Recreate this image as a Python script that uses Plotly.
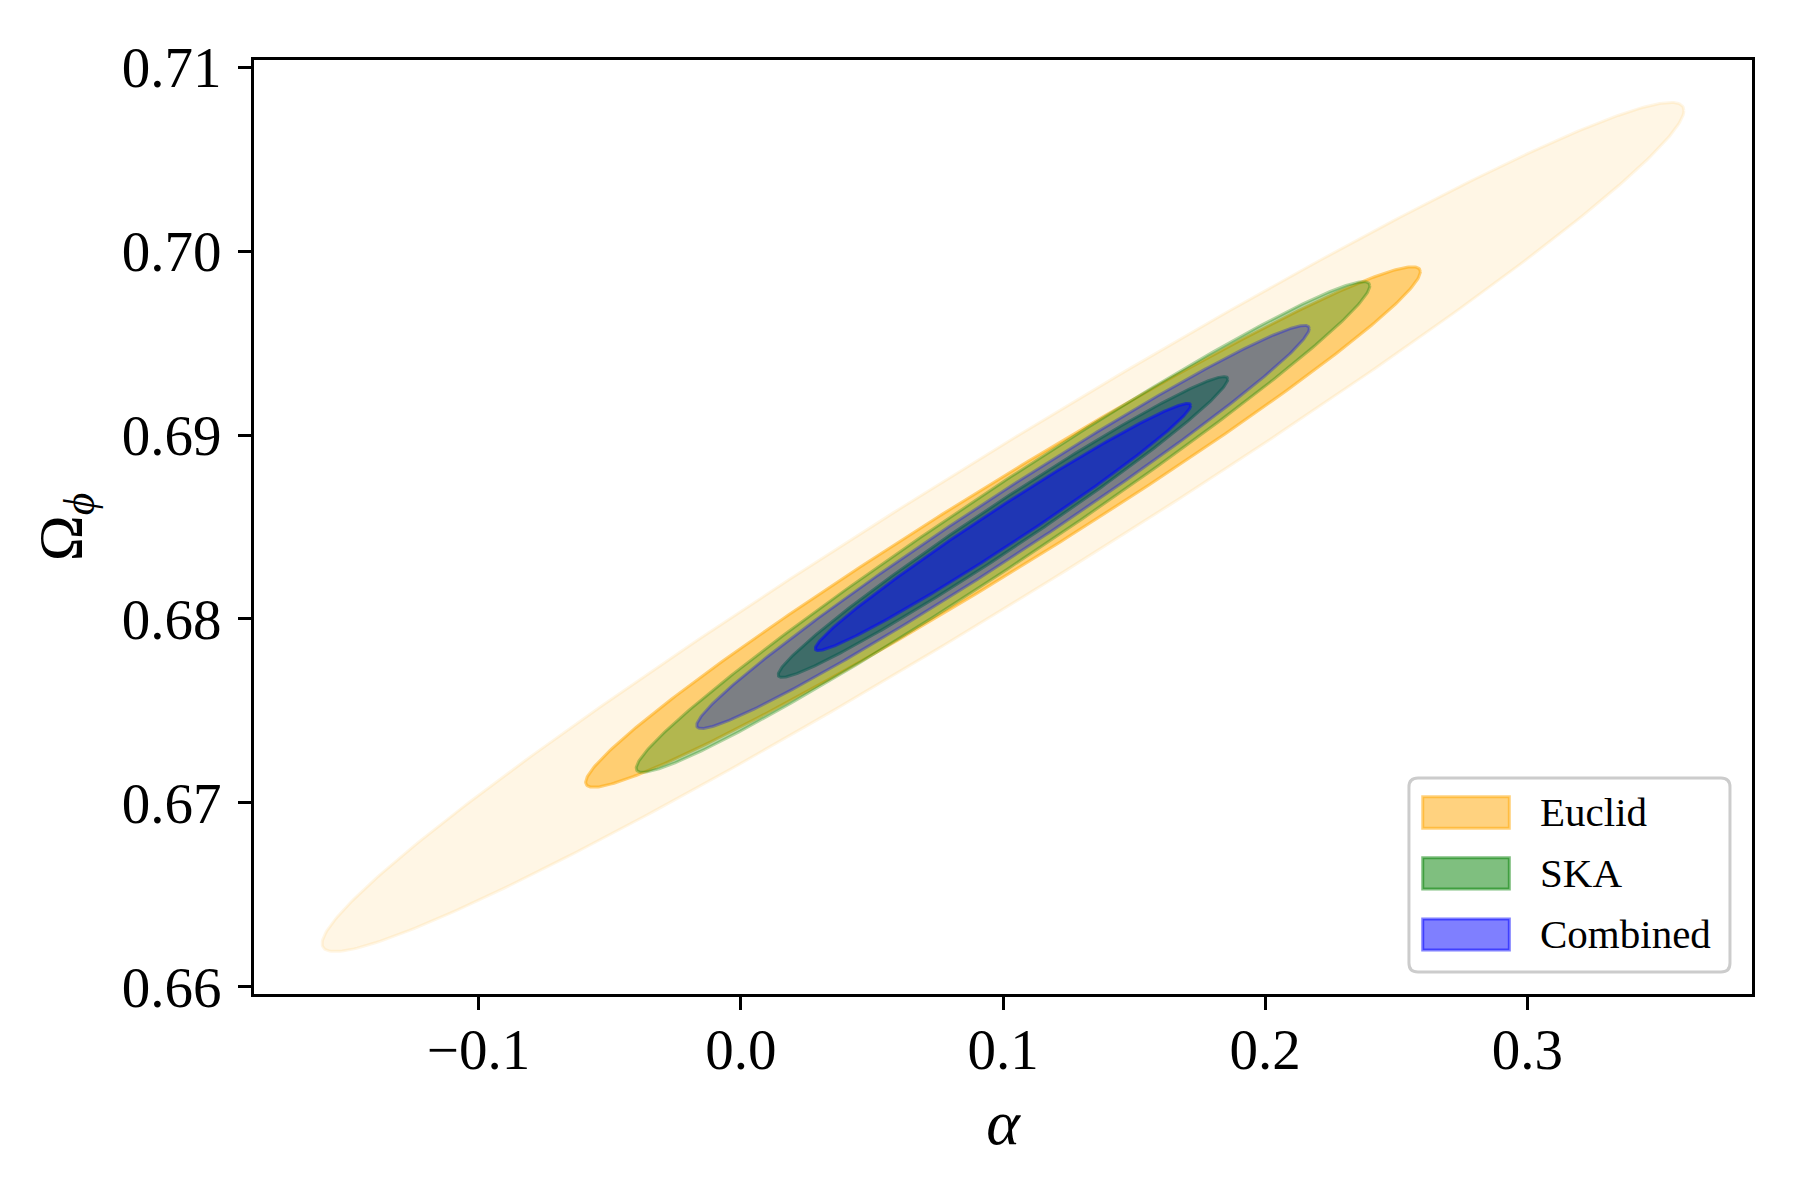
import numpy as np
import plotly.graph_objects as go

# ---- data ----
surveys = ["Euclid", "SKA", "Combined"]
center_alpha = [0.100, 0.100, 0.100]
center_omega = [0.685, 0.685, 0.685]
sigma_alpha = [0.1047, 0.0564, 0.0471]
sigma_omega = [0.00931, 0.00538, 0.00442]
rho = [0.981, 0.983, 0.984]
cl_labels = ["2sigma", "1sigma"]
cl_scale = [2.48, 1.52]
colors_rgb = [(255, 165, 0), (0, 128, 0), (0, 0, 255)]
fill_alpha = [[0.10, 0.50], [0.30, 0.50], [0.30, 0.50]]
x_ticks = [-0.1, 0.0, 0.1, 0.2, 0.3]
y_ticks = [0.66, 0.67, 0.68, 0.69, 0.70, 0.71]

FONT = "Liberation Serif"


def rgba(c, a):
    return f"rgba({c[0]},{c[1]},{c[2]},{a})"


fig = go.Figure()
t = np.linspace(0, 2 * np.pi, 400)
for i, name in enumerate(surveys):
    for j, k in enumerate(cl_scale):
        sx, sy, r = sigma_alpha[i], sigma_omega[i], rho[i]
        x = center_alpha[i] + k * sx * np.cos(t)
        y = center_omega[i] + k * sy * (r * np.cos(t) + np.sqrt(1 - r * r) * np.sin(t))
        a = fill_alpha[i][j]
        fig.add_trace(go.Scatter(
            x=x, y=y, mode="lines", fill="toself",
            fillcolor=rgba(colors_rgb[i], a),
            line=dict(color=rgba(colors_rgb[i], a), width=3),
            name=f"{name} {cl_labels[j]}", showlegend=False, hoverinfo="skip",
        ))

# matplotlib-like autoscale (5% margins) from outermost contour
k_out = max(cl_scale)
xmin = min(c - k_out * s for c, s in zip(center_alpha, sigma_alpha))
xmax = max(c + k_out * s for c, s in zip(center_alpha, sigma_alpha))
ymin = min(c - k_out * s for c, s in zip(center_omega, sigma_omega))
ymax = max(c + k_out * s for c, s in zip(center_omega, sigma_omega))
px, py = 0.05 * (xmax - xmin), 0.05 * (ymax - ymin)

axis_common = dict(
    showgrid=False, zeroline=False, showline=True, linecolor="black",
    linewidth=3, mirror=True, ticks="outside", ticklen=13, tickwidth=3,
    tickcolor="black", tickfont=dict(family=FONT, size=57, color="black"),
)

fig.update_layout(
    width=1792, height=1192,
    margin=dict(l=246, r=48, t=52, b=206),
    paper_bgcolor="white", plot_bgcolor="white",
    xaxis=dict(range=[xmin - px, xmax + px], tickvals=x_ticks, tickformat=".1f",
               ticklabelstandoff=-9,
               title=dict(text="<i>α</i>", font=dict(family=FONT, size=64, color="black"),
                          standoff=19),
               **axis_common),
    yaxis=dict(range=[ymin - py, ymax + py], tickvals=y_ticks, tickformat=".2f",
               ticklabelstandoff=5,
               title=dict(text="Ω<sub><i>ϕ</i></sub>", font=dict(family=FONT, size=62, color="black"),
                          standoff=21),
               **axis_common),
    showlegend=False,
)

# ---- legend drawn as a matplotlib-style box ----
W, H = 1792 - 246 - 48, 1192 - 52 - 206
x0, x1, y0, y1 = 0.7710, 0.9853, 0.0236, 0.2313
rx, ry = 9 / W, 9 / H
path = (f"M {x0+rx},{y0} L {x1-rx},{y0} Q {x1},{y0} {x1},{y0+ry} "
        f"L {x1},{y1-ry} Q {x1},{y1} {x1-rx},{y1} L {x0+rx},{y1} "
        f"Q {x0},{y1} {x0},{y1-ry} L {x0},{y0+ry} Q {x0},{y0} {x0+rx},{y0} Z")
fig.add_shape(type="path", path=path, xref="paper", yref="paper",
              fillcolor="rgba(255,255,255,0.8)", line=dict(color="#cccccc", width=3),
              layer="above")
patch_top = [0.2113, 0.1459, 0.0803]
patch_bot = [0.1774, 0.1124, 0.0471]
for i, name in enumerate(surveys):
    fig.add_shape(type="rect", xref="paper", yref="paper",
                  x0=0.7802, x1=0.8380, y0=patch_bot[i], y1=patch_top[i],
                  fillcolor=rgba(colors_rgb[i], 0.5),
                  line=dict(color=rgba(colors_rgb[i], 0.5), width=3), layer="above")
    fig.add_annotation(x=0.8570, y=(patch_top[i] + patch_bot[i]) / 2 + 0.0005,
                       xref="paper", yref="paper", text=name, showarrow=False,
                       xanchor="left", yanchor="middle",
                       font=dict(family=FONT, size=41, color="black"))

fig.write_html("out.html")
